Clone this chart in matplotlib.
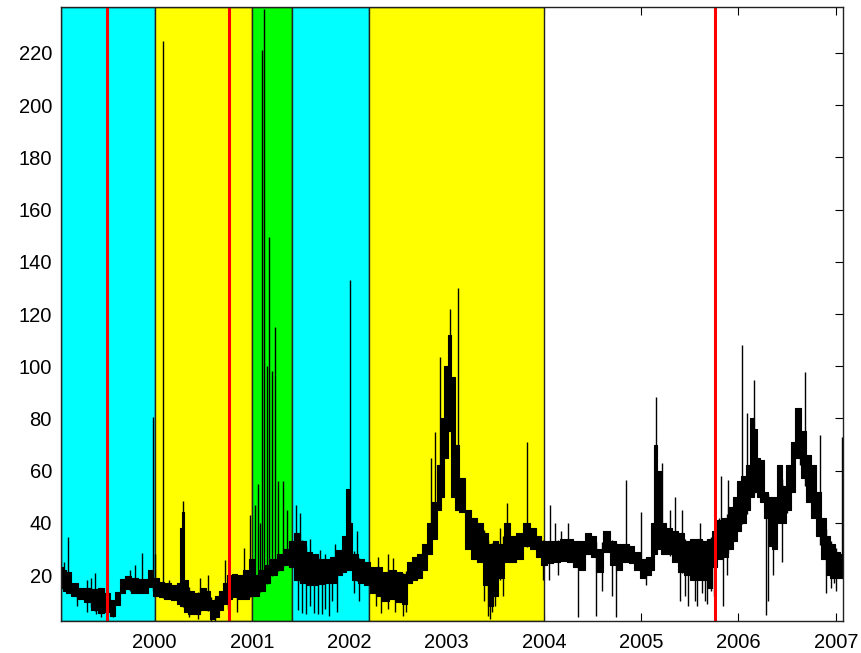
import numpy as np
import matplotlib
matplotlib.use("Agg")
import matplotlib.pyplot as plt

plt.rcParams['font.family'] = ['Liberation Sans', 'DejaVu Sans']

# ---- data ----
dates = [1999.037, 1999.075, 1999.106, 1999.178, 1999.24, 1999.31, 1999.38, 1999.445,
         1999.517, 1999.568, 1999.62, 1999.67, 1999.72, 1999.795, 1999.856, 1999.91,
         1999.96, 2000.01, 2000.07, 2000.13, 2000.205, 2000.247, 2000.267, 2000.288,
         2000.32, 2000.37, 2000.44, 2000.50, 2000.545, 2000.596, 2000.64, 2000.68,
         2000.72, 2000.77, 2000.82, 2000.87, 2000.935, 2000.997,
         2001.04, 2001.10, 2001.16, 2001.22, 2001.285, 2001.35, 2001.41,
         2001.46, 2001.52, 2001.58, 2001.644, 2001.706, 2001.77, 2001.83, 2001.90,
         2001.95, 2001.98, 2002.01, 2002.055, 2002.117, 2002.18,
         2002.24, 2002.31, 2002.37, 2002.446, 2002.508, 2002.57, 2002.62, 2002.67,
         2002.72, 2002.775, 2002.826, 2002.878, 2002.93, 2002.96, 2002.99, 2003.03,
         2003.07, 2003.11, 2003.155, 2003.217, 2003.28, 2003.34, 2003.40, 2003.45,
         2003.50, 2003.556, 2003.618, 2003.68, 2003.75, 2003.823, 2003.885, 2003.947,
         2003.998,
         2004.06, 2004.13, 2004.20, 2004.265, 2004.326, 2004.39, 2004.45, 2004.51,
         2004.57, 2004.645, 2004.707, 2004.77, 2004.84, 2004.90, 2004.96, 2005.02,
         2005.08, 2005.12, 2005.15, 2005.18, 2005.22, 2005.285, 2005.35, 2005.41,
         2005.47, 2005.53, 2005.59, 2005.65, 2005.71, 2005.75, 2005.80, 2005.86,
         2005.92, 2005.96, 2006.00, 2006.05, 2006.10, 2006.14, 2006.17, 2006.20,
         2006.24, 2006.28, 2006.32, 2006.37, 2006.42, 2006.465, 2006.51, 2006.56,
         2006.61, 2006.665, 2006.715, 2006.77, 2006.82, 2006.87, 2006.92, 2006.97,
         2007.02, 2007.074]
low = [15, 14, 13, 12, 11, 9.5, 6.5, 5.5,
       6, 4.5, 8.5, 13, 14.5, 13, 13, 13,
       15.5, 12, 11.5, 11, 10.5, 9, 8, 8,
       6, 5, 5, 6.5, 6.5, 3, 4, 6.5,
       9, 11, 11.5, 11, 11, 12,
       12, 14, 17, 20, 22, 24, 23,
       18, 17, 16, 16, 16.5, 17, 17, 20,
       21, 22, 22, 18, 17, 16,
       13, 12, 10, 11, 9.5, 9, 17, 18,
       19, 22, 28, 34, 45, 50, 65, 75,
       50, 45, 44, 30, 26, 25, 16, 8,
       12, 19, 25, 25, 26, 31, 30, 27,
       24,
       24.5, 25, 25.5, 25, 23, 22, 28, 27,
       21, 29, 24, 22, 25, 24.5, 22, 19,
       20, 22, 28, 30, 28, 28, 25, 21,
       20, 18, 18, 18, 15, 23, 26, 27,
       30, 33, 37, 40, 45, 50, 52, 50,
       48, 42, 31, 30, 40, 40, 45, 52,
       65, 57, 48, 42, 35, 26, 20, 19,
       19, 19]
high = [23, 22, 21, 17, 15, 15, 14.5, 15,
        13, 10.5, 13.5, 18.5, 19.5, 19, 18.5, 18.5,
        22, 19, 17.5, 17, 16, 17, 38, 44,
        18, 14, 13, 15, 14, 10.5, 12, 14,
        17, 20, 20.5, 20, 22, 26,
        20, 22, 24, 26, 28, 30, 33,
        36, 33, 29, 28, 26, 26, 27, 29.5,
        35, 53, 40, 28, 26, 25,
        23, 23, 21, 22, 21, 20.5, 25, 27,
        28, 32, 40, 48, 62, 80, 100, 112,
        96, 70, 57, 45, 42, 40, 36, 32,
        33, 32, 40, 35, 36, 40, 38, 35,
        33,
        33, 33, 34, 34, 33, 33, 36, 35,
        30, 37, 33, 32, 32, 31, 29, 26,
        27, 40, 70, 60, 40, 38, 37, 36,
        33, 34, 34, 33, 34, 37, 41, 42,
        46, 50, 56, 58, 62, 80, 76, 65,
        64, 52, 50, 50, 62, 54, 62, 71,
        84, 75, 66, 62, 52, 42, 35, 32,
        29, 28]

spike_dates = [1999.07, 1999.11, 1999.2, 1999.3, 1999.35, 1999.39, 1999.75, 1999.8,
               1999.87, 1999.985, 2000.005, 2000.09, 2000.15, 2000.29, 2000.47,
               2000.55, 2000.72, 2000.915, 2000.98, 2001.03, 2001.06, 2001.08,
               2001.105, 2001.12, 2001.15, 2001.175, 2001.21, 2001.24, 2001.27,
               2001.32, 2001.36, 2001.456, 2001.49, 2001.6, 2001.696, 2001.75,
               2001.85, 2002.01, 2002.08, 2002.3, 2002.4, 2002.45, 2002.84,
               2002.88, 2002.935, 2003.03, 2003.117, 2003.55, 2003.62, 2003.83,
               2004.06, 2004.11, 2004.18, 2004.25, 2004.84, 2005.0, 2005.155,
               2005.21, 2005.3, 2005.35, 2005.42, 2005.6, 2005.80, 2005.82,
               2005.89, 2006.04, 2006.085, 2006.155, 2006.45, 2006.5, 2006.63,
               2006.68, 2006.84, 2007.06]
spike_vals = [25, 34.5, 16, 18, 19, 20.6, 22, 24,
              28.3, 80.5, 28, 224.7, 18, 48.5, 19,
              20, 25.7, 30.3, 43, 47, 55, 40,
              221, 237, 100, 149.6, 98, 115, 56,
              56, 45, 46.8, 43.8, 34, 29.6, 28,
              32, 133, 37, 27, 28, 26.5, 64.8,
              74.8, 103.5, 122, 130, 38, 47.6, 71,
              46.8, 40, 37, 40, 56.4, 44.3, 88.3,
              62.8, 45, 50, 45, 40, 42, 58,
              56.4, 108, 82, 94.7, 55, 56, 80,
              97.8, 73.6, 73]

dip_dates = [1999.2, 1999.3, 1999.40, 1999.45, 1999.57, 2000.35, 2000.45, 2000.58,
             2000.62, 2000.75, 2000.85, 2001.47, 2001.51, 2001.55, 2001.6, 2001.64,
             2001.68, 2001.72, 2001.75, 2001.79, 2001.82, 2001.87, 2002.05, 2002.1,
             2002.27, 2002.33, 2002.4, 2002.47, 2002.55, 2002.58, 2003.38, 2003.43,
             2003.45, 2003.47, 2003.5, 2003.58, 2003.99, 2004.05, 2004.15, 2004.35,
             2004.54, 2004.6, 2004.7, 2004.745, 2005.05, 2005.4, 2005.45, 2005.48,
             2005.55, 2005.57, 2005.62, 2005.66, 2005.68, 2005.72, 2005.75, 2005.84,
             2005.88, 2006.285, 2006.3, 2006.35, 2006.45, 2006.90, 2006.95,
             2006.985, 2007.0]
dip_vals = [8, 6, 5, 4, 4, 4, 3, 2.5,
            2.4, 7, 6, 6.6, 5.5, 5, 8, 5.4,
            5, 5, 7, 4.5, 10, 6, 13, 10,
            8, 5.4, 7, 6, 4.5, 6, 10, 4.5,
            3, 6, 8, 12, 18, 18, 20, 4,
            4.5, 14, 12, 4, 16, 10, 12, 8,
            10, 8, 13, 10, 9, 14, 12, 8,
            20, 4.7, 10, 20, 25, 13, 15,
            17, 14]

span_starts = [1999.0, 2000.0, 2001.0, 2001.415, 2002.205]
span_ends = [2000.0, 2001.0, 2001.415, 2002.205, 2004.0]
span_colors = ['#00ffff', '#ffff00', '#00ff00', '#00ffff', '#ffff00']

red_lines = [1999.507, 2000.76, 2005.755]

year_ticks = [2000, 2001, 2002, 2003, 2004, 2005, 2006, 2007]
y_ticks = [20, 40, 60, 80, 100, 120, 140, 160, 180, 200, 220]

# ---- figure ----
fig = plt.figure(figsize=(8.61, 6.53), dpi=100)
ax = fig.add_axes([61 / 861, 1 - 621 / 653, (843 - 61) / 861, (621 - 7) / 653])

x0, x1 = 1999.037, 2007.074
y0, y1 = 2.4, 237.6

for s, e, c in zip(span_starts, span_ends, span_colors):
    ax.axvspan(max(s, x0), min(e, x1), facecolor=c, edgecolor='#222222',
               linewidth=1.0, zorder=1)

d = np.array(dates)
lo = np.array(low)
hi = np.array(high)

ax.fill_between(d, lo, hi, step='mid', color='black', linewidth=0.8, zorder=3)

sx = np.array(spike_dates)
ax.vlines(sx, np.interp(sx, d, lo), spike_vals, color='black', linewidth=1.0, zorder=3)
dx = np.array(dip_dates)
ax.vlines(dx, dip_vals, np.interp(dx, d, hi), color='black', linewidth=1.0, zorder=3)

for r in red_lines:
    ax.axvline(r, color='#ff0000', linewidth=2.2, zorder=4)

ax.set_xlim(x0, x1)
ax.set_ylim(y0, y1)
ax.set_xticks(year_ticks)
ax.set_xticklabels([str(y) for y in year_ticks])
ax.set_yticks(y_ticks)
ax.set_yticklabels([str(v) for v in y_ticks])
ax.set_axisbelow(True)
ax.tick_params(direction='in', length=6, width=0.8, top=True, right=True,
               labelsize=14.5, colors='black')
ax.tick_params(axis='x', pad=9)
ax.tick_params(axis='y', pad=6.5)
for sp in ax.spines.values():
    sp.set_linewidth(1.0)
    sp.set_color('#222222')
    sp.set_zorder(5)

fig.savefig('out.png', dpi=100)
